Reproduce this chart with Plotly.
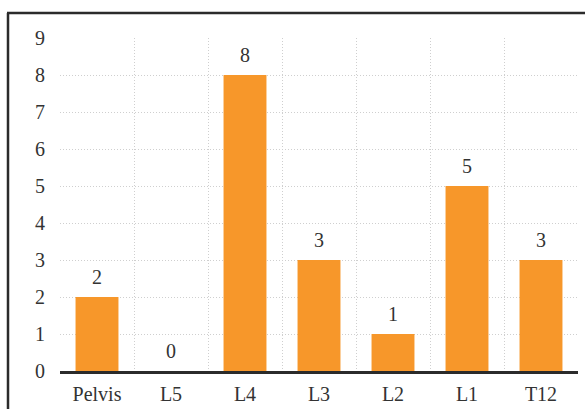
import plotly.graph_objects as go

# Vertebral levels and counts
levels = ["Pelvis", "L5", "L4", "L3", "L2", "L1", "T12"]
counts = [2, 0, 8, 3, 1, 5, 3]
y_ticks = [0, 1, 2, 3, 4, 5, 6, 7, 8, 9]

BAR_COLOR = "#F7972A"
TEXT_COLOR = "#333333"
FONT = "Liberation Serif"
GRID = "#cfcfcf"
DOTS = "1px,2px"

W, H = 585, 409
L, R, T, B = 60, 7, 37.5, 38
plot_w = W - L - R
plot_h = H - T - B

positions = list(range(len(levels)))

fig = go.Figure()
fig.add_trace(go.Bar(
    x=positions,
    y=counts,
    marker=dict(color=BAR_COLOR, line=dict(width=0)),
    width=0.58,
    hoverinfo="skip",
))

# Value labels above each bar
for xi, v in zip(positions, counts):
    fig.add_annotation(
        x=xi, y=v, text=str(v), showarrow=False,
        yanchor="bottom", yshift=7,
        font=dict(family=FONT, size=20, color=TEXT_COLOR),
    )

# Outer frame: left and top edges
def px_x(px):
    return (px - L) / plot_w

def px_y(py):
    return (H - B - py) / plot_h

frame = dict(color="#2b2b2b", width=2.5)
fig.add_shape(type="line", xref="paper", yref="paper",
              x0=px_x(8), x1=px_x(8), y0=px_y(12.5), y1=px_y(H + 5), line=frame)
fig.add_shape(type="line", xref="paper", yref="paper",
              x0=px_x(7), x1=px_x(W + 5), y0=px_y(12.5), y1=px_y(12.5), line=frame)

fig.update_layout(
    width=W, height=H,
    margin=dict(l=L, r=R, t=T, b=B, autoexpand=False),
    paper_bgcolor="white", plot_bgcolor="white",
    showlegend=False,
    font=dict(family=FONT, size=20, color=TEXT_COLOR),
    xaxis=dict(
        range=[-0.5, len(levels) - 0.5],
        tickmode="array", tickvals=positions, ticktext=levels,
        showgrid=False, zeroline=False, automargin=False,
        showline=True, linecolor="#2b2b2b", linewidth=2.5,
        ticks="", ticklabelstandoff=3,
        minor=dict(tick0=-0.5, dtick=1, showgrid=True,
                   gridcolor=GRID, griddash=DOTS, gridwidth=1, ticks=""),
        fixedrange=True,
    ),
    yaxis=dict(
        range=[0, 9],
        tickmode="array", tickvals=y_ticks,
        showgrid=True, gridcolor=GRID, griddash=DOTS, gridwidth=1,
        zeroline=False, showline=False, ticks="", automargin=False,
        ticklabelstandoff=14,
        fixedrange=True,
    ),
)

fig.write_html("out.html")
